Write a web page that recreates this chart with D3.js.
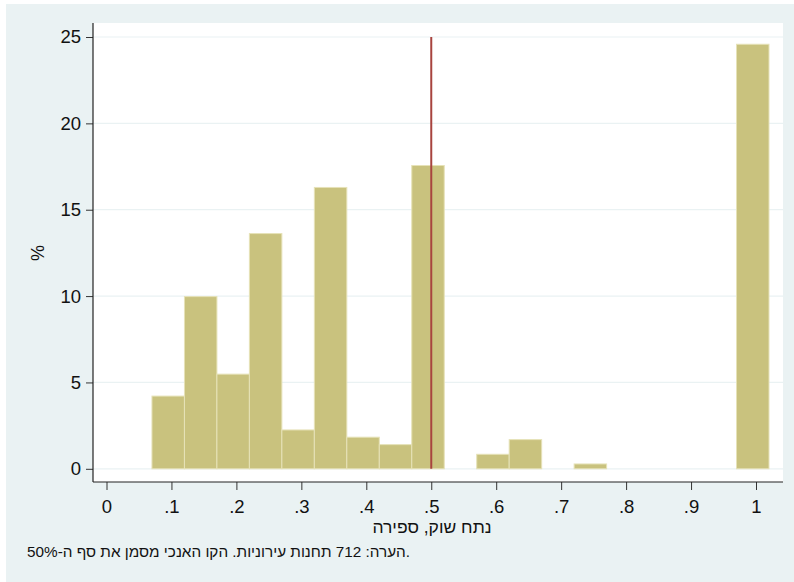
<!DOCTYPE html>
<html><head><meta charset="utf-8">
<script src="https://cdn.jsdelivr.net/npm/d3@7"></script>
<style>
html,body{margin:0;padding:0;background:#fff;}
svg{display:block;font-family:"Liberation Sans",Arial,Helvetica,sans-serif;}
</style></head>
<body>
<svg id="chart" width="794" height="582"></svg>
<script>
// Histogram data: lower edge of each bin (width 0.05) and percent of observations
const binStarts = [0.07, 0.12, 0.17, 0.22, 0.27, 0.32, 0.37, 0.42, 0.47, 0.57, 0.62, 0.72, 0.97];
const percents  = [4.21, 9.97, 5.48, 13.62, 2.25, 16.29, 1.83, 1.40, 17.56, 0.84, 1.69, 0.28, 24.58];
const binWidth = 0.05;
const xTickValues = [0, 0.1, 0.2, 0.3, 0.4, 0.5, 0.6, 0.7, 0.8, 0.9, 1];
const xTickLabels = ["0", ".1", ".2", ".3", ".4", ".5", ".6", ".7", ".8", ".9", "1"];
const yTickValues = [0, 5, 10, 15, 20, 25];
const thresholdValue = [0.5];
const xTitle = "נתח שוק, ספירה";
const yTitle = "%";
const noteText = "הערה: 712 תחנות עירוניות. הקו האנכי מסמן את סף ה-50%.";

const svg = d3.select("#chart");
const plot = {left: 93, right: 783, top: 23, bottom: 482};

const x = d3.scaleLinear().domain([0, 1]).range([106.5, 756]);
const y = d3.scaleLinear().domain([0, 25]).range([468.8, 37]);

// outer background
svg.append("rect").attr("x", 6).attr("y", 4).attr("width", 788).attr("height", 578).attr("fill", "#eaf2f3");
// plot region
svg.append("rect").attr("x", plot.left).attr("y", plot.top)
  .attr("width", plot.right - plot.left).attr("height", plot.bottom - plot.top).attr("fill", "#ffffff");

// gridlines
svg.append("g").selectAll("line").data(yTickValues).join("line")
  .attr("x1", plot.left).attr("x2", plot.right)
  .attr("y1", d => y(d)).attr("y2", d => y(d))
  .attr("stroke", "#eaf2f3").attr("stroke-width", 1.2);

// bars
const bars = binStarts.map((s, i) => ({s, v: percents[i]}));
svg.append("g").selectAll("rect").data(bars).join("rect")
  .attr("x", d => x(d.s))
  .attr("y", d => y(d.v))
  .attr("width", d => x(d.s + binWidth) - x(d.s))
  .attr("height", d => y(0) - y(d.v))
  .attr("fill", "#c9c27e")
  .attr("stroke", "#e6e2b8").attr("stroke-width", 1);

// vertical threshold line
svg.append("g").selectAll("line").data(thresholdValue).join("line")
  .attr("x1", d => x(d)).attr("x2", d => x(d))
  .attr("y1", y(25)).attr("y2", y(0))
  .attr("stroke", "#a8443f").attr("stroke-width", 2);

// y axis
const yAxis = d3.axisLeft(y).tickValues(yTickValues).tickSize(7).tickPadding(5).tickFormat(d3.format("d"));
const gy = svg.append("g").attr("transform", `translate(${plot.left},0)`).call(yAxis);
gy.select(".domain").remove();
gy.append("line").attr("x1", 0).attr("x2", 0).attr("y1", plot.top).attr("y2", plot.bottom).attr("stroke", "#222").attr("stroke-width", 1.2);
gy.selectAll(".tick line").attr("stroke", "#333");
gy.selectAll(".tick text").attr("font-size", 18.5).attr("fill", "#111").attr("font-family", "Liberation Sans, Arial, sans-serif");

// x axis
const xAxis = d3.axisBottom(x).tickValues(xTickValues).tickSize(8).tickPadding(10)
  .tickFormat((d, i) => xTickLabels[i]);
const gx = svg.append("g").attr("transform", `translate(0,${plot.bottom})`).call(xAxis);
gx.select(".domain").remove();
gx.append("line").attr("x1", plot.left).attr("x2", plot.right).attr("y1", 0).attr("y2", 0).attr("stroke", "#222").attr("stroke-width", 1.2);
gx.selectAll(".tick line").attr("stroke", "#333");
gx.selectAll(".tick text").attr("font-size", 18.5).attr("fill", "#111").attr("font-family", "Liberation Sans, Arial, sans-serif");

// axis titles
svg.append("text").attr("x", 432).attr("y", 533).attr("text-anchor", "middle")
  .attr("font-size", 17.5).attr("fill", "#111").text(xTitle);
svg.append("text").attr("transform", "translate(44,253) rotate(-90)").attr("text-anchor", "middle")
  .attr("font-size", 18).attr("fill", "#111").text(yTitle);

// note
svg.append("text").attr("x", 27).attr("y", 557).attr("text-anchor", "start")
  .attr("font-size", 15.3).attr("fill", "#111").text(noteText);
</script>
</body></html>
